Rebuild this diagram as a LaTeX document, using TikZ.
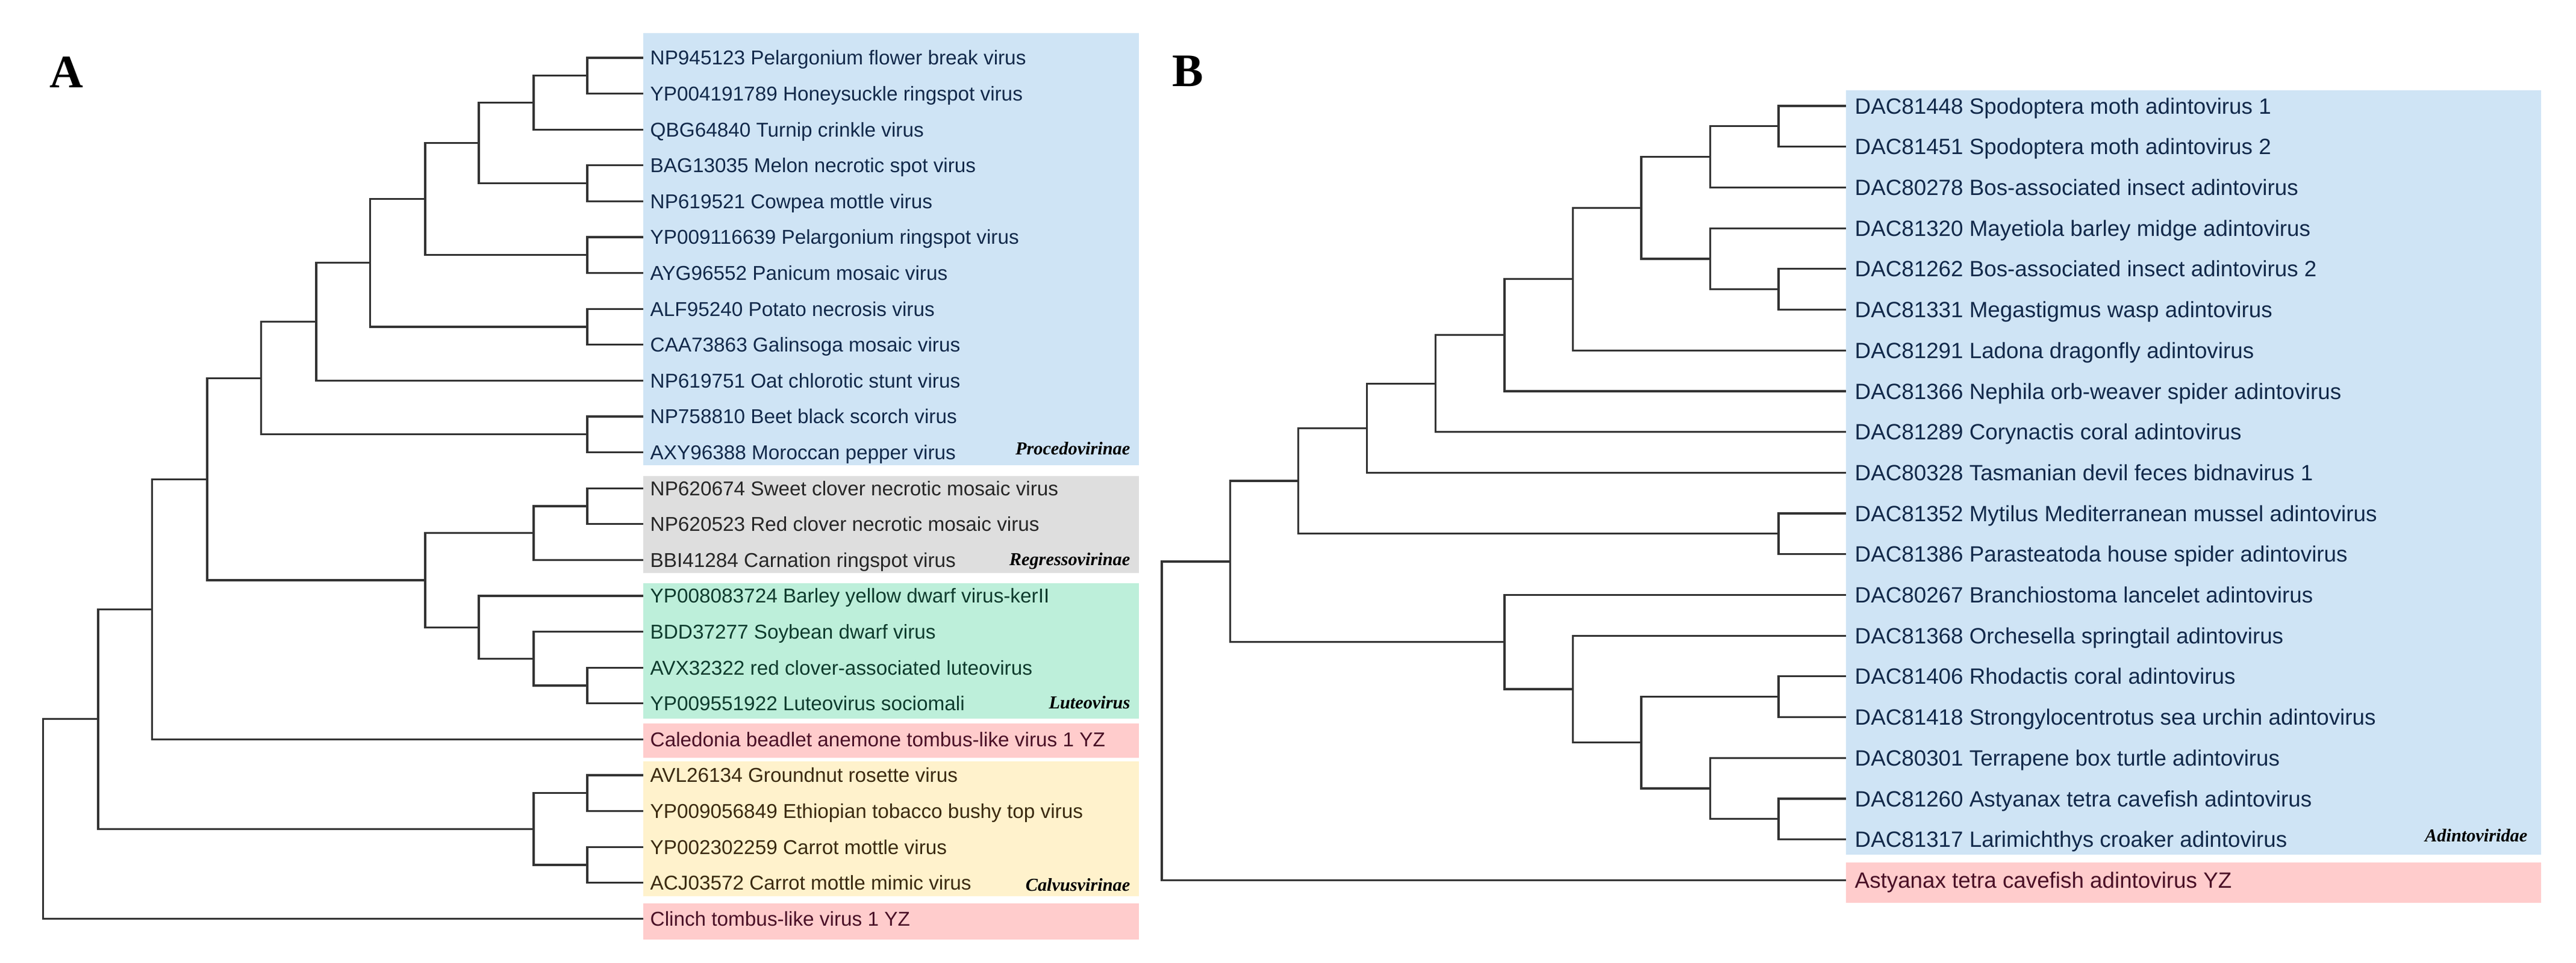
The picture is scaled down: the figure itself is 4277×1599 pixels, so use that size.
\documentclass[tikz,border=0pt]{standalone}
\usepackage{fontspec}
\newfontfamily\arialf{Liberation Sans}
\newfontfamily\tnrf{Liberation Serif}
\definecolor{bxblue}{HTML}{CFE4F5}
\definecolor{bxgray}{HTML}{DEDEDE}
\definecolor{bxgreen}{HTML}{BDEFDA}
\definecolor{bxred}{HTML}{FFCCCC}
\definecolor{bxyellow}{HTML}{FFF2CC}
\definecolor{tblue}{HTML}{12294A}
\definecolor{tgray}{HTML}{262626}
\definecolor{tgreen}{HTML}{0E3B2D}
\definecolor{tred}{HTML}{4A1026}
\definecolor{tyellow}{HTML}{3B2A10}
\definecolor{branch}{HTML}{333333}
\tikzset{
  branchline/.style={draw=branch, line width=3.2*0.2845pt},
  leafA/.style={anchor=west, inner xsep=0.11cm, inner ysep=0pt, text height=0.238cm, text depth=0pt,
    font=\arialf\fontsize{9.47pt}{11pt}\selectfont},
  leafB/.style={anchor=west, inner xsep=0.14cm, inner ysep=0pt, text height=0.263cm, text depth=0pt,
    font=\arialf\fontsize{10.46pt}{12pt}\selectfont},
  grouplabel/.style={anchor=base east, inner sep=0pt, text=black,
    font=\tnrf\bfseries\itshape\fontsize{8.62pt}{10pt}\selectfont},
  panellabel/.style={anchor=base, inner sep=0pt, font=\tnrf\bfseries\fontsize{22pt}{24pt}\selectfont},
}
\begin{document}
\begin{tikzpicture}[x=0.01cm, y=-0.01cm]
\useasboundingbox (0,0) rectangle (4277,1599);
\fill[white] (0,0) rectangle (4277,1599);

% ---------- Panel A boxes ----------
\fill[bxblue]   (1068,55)   rectangle (1891,773);
\fill[bxgray]   (1068,791)  rectangle (1891,952);
\fill[bxgreen]  (1068,969)  rectangle (1891,1194);
\fill[bxred]    (1068,1202) rectangle (1891,1259);
\fill[bxyellow] (1068,1265) rectangle (1891,1489);
\fill[bxred]    (1068,1501) rectangle (1891,1561);

% ---------- Panel B boxes ----------
\fill[bxblue] (3065,149.5) rectangle (4219,1420);
\fill[bxred]  (3065,1433)  rectangle (4219,1500);

% panel labels
\node[panellabel] (labA) at (110.5,145) {A};
\node[panellabel] (labB) at (1972,143) {B};

% ---------- Panel A leaves ----------
\foreach \i/\c/\t in {
 0/tblue/{NP945123 Pelargonium flower break virus},
 1/tblue/{YP004191789 Honeysuckle ringspot virus},
 2/tblue/{QBG64840 Turnip crinkle virus},
 3/tblue/{BAG13035 Melon necrotic spot virus},
 4/tblue/{NP619521 Cowpea mottle virus},
 5/tblue/{YP009116639 Pelargonium ringspot virus},
 6/tblue/{AYG96552 Panicum mosaic virus},
 7/tblue/{ALF95240 Potato necrosis virus},
 8/tblue/{CAA73863 Galinsoga mosaic virus},
 9/tblue/{NP619751 Oat chlorotic stunt virus},
 10/tblue/{NP758810 Beet black scorch virus},
 11/tblue/{AXY96388 Moroccan pepper virus},
 12/tgray/{NP620674 Sweet clover necrotic mosaic virus},
 13/tgray/{NP620523 Red clover necrotic mosaic virus},
 14/tgray/{BBI41284 Carnation ringspot virus},
 15/tgreen/{YP008083724 Barley yellow dwarf virus-kerII},
 16/tgreen/{BDD37277 Soybean dwarf virus},
 17/tgreen/{AVX32322 red clover-associated luteovirus},
 18/tgreen/{YP009551922 Luteovirus sociomali},
 19/tred/{Caledonia beadlet anemone tombus-like virus 1 YZ},
 20/tyellow/{AVL26134 Groundnut rosette virus},
 21/tyellow/{YP009056849 Ethiopian tobacco bushy top virus},
 22/tyellow/{YP002302259 Carrot mottle virus},
 23/tyellow/{ACJ03572 Carrot mottle mimic virus},
 24/tred/{Clinch tombus-like virus 1 YZ}}
 {\node[leafA, text=\c] (la\i) at (1068,{96+59.6*\i}) {\t};}

% group labels A
\node[grouplabel] (gProc) at (1877,755)    {Procedovirinae};
\node[grouplabel] (gReg)  at (1877,939.5)  {Regressovirinae};
\node[grouplabel] (gLut)  at (1877,1177.7) {Luteovirus};
\node[grouplabel] (gCal)  at (1877,1480)   {Calvusvirinae};

% internal nodes A
\coordinate (n01)   at (975,125.8);
\coordinate (n012)  at (886,170.5);
\coordinate (n34)   at (975,304.6);
\coordinate (n04)   at (795,237.55);
\coordinate (n56)   at (975,423.8);
\coordinate (n06)   at (706,330.7);
\coordinate (n78)   at (975,543);
\coordinate (n08)   at (614.5,436.85);
\coordinate (n09)   at (525,534.6);
\coordinate (n1011) at (975,721.8);
\coordinate (nProc) at (433.5,628.2);
\coordinate (n1213) at (975,841);
\coordinate (nReg)  at (886,885.7);
\coordinate (n1718) at (975,1139);
\coordinate (n1618) at (886,1094.3);
\coordinate (nLut)  at (795,1042.2);
\coordinate (nRL)   at (706,964);
\coordinate (nPRL)  at (344,796.1);
\coordinate (nCal)  at (252.5,1012.2);
\coordinate (n2021) at (975,1317.8);
\coordinate (n2223) at (975,1437);
\coordinate (nCalv) at (886,1377.4);
\coordinate (nIn)   at (163,1194.8);
\coordinate (rootA) at (71.6,1360.6);

\begin{scope}[branchline]
\draw (la0.west) -| (n01) |- (la1.west);
\draw (n01) -| (n012) |- (la2.west);
\draw (la3.west) -| (n34) |- (la4.west);
\draw (n012) -| (n04) |- (n34);
\draw (la5.west) -| (n56) |- (la6.west);
\draw (n04) -| (n06) |- (n56);
\draw (la7.west) -| (n78) |- (la8.west);
\draw (n06) -| (n08) |- (n78);
\draw (n08) -| (n09) |- (la9.west);
\draw (la10.west) -| (n1011) |- (la11.west);
\draw (n09) -| (nProc) |- (n1011);
\draw (la12.west) -| (n1213) |- (la13.west);
\draw (n1213) -| (nReg) |- (la14.west);
\draw (la17.west) -| (n1718) |- (la18.west);
\draw (la16.west) -| (n1618) |- (n1718);
\draw (la15.west) -| (nLut) |- (n1618);
\draw (nReg) -| (nRL) |- (nLut);
\draw (nProc) -| (nPRL) |- (nRL);
\draw (nPRL) -| (nCal) |- (la19.west);
\draw (la20.west) -| (n2021) |- (la21.west);
\draw (la22.west) -| (n2223) |- (la23.west);
\draw (n2021) -| (nCalv) |- (n2223);
\draw (nCal) -| (nIn) |- (nCalv);
\draw (nIn) -| (rootA) |- (la24.west);
\end{scope}

% ---------- Panel B leaves ----------
\foreach \i/\c/\t in {
 0/tblue/{DAC81448 Spodoptera moth adintovirus 1},
 1/tblue/{DAC81451 Spodoptera moth adintovirus 2},
 2/tblue/{DAC80278 Bos-associated insect adintovirus},
 3/tblue/{DAC81320 Mayetiola barley midge adintovirus},
 4/tblue/{DAC81262 Bos-associated insect adintovirus 2},
 5/tblue/{DAC81331 Megastigmus wasp adintovirus},
 6/tblue/{DAC81291 Ladona dragonfly adintovirus},
 7/tblue/{DAC81366 Nephila orb-weaver spider adintovirus},
 8/tblue/{DAC81289 Corynactis coral adintovirus},
 9/tblue/{DAC80328 Tasmanian devil feces bidnavirus 1},
 10/tblue/{DAC81352 Mytilus Mediterranean mussel adintovirus},
 11/tblue/{DAC81386 Parasteatoda house spider adintovirus},
 12/tblue/{DAC80267 Branchiostoma lancelet adintovirus},
 13/tblue/{DAC81368 Orchesella springtail adintovirus},
 14/tblue/{DAC81406 Rhodactis coral adintovirus},
 15/tblue/{DAC81418 Strongylocentrotus sea urchin adintovirus},
 16/tblue/{DAC80301 Terrapene box turtle adintovirus},
 17/tblue/{DAC81260 Astyanax tetra cavefish adintovirus},
 18/tblue/{DAC81317 Larimichthys croaker adintovirus},
 19/tred/{Astyanax tetra cavefish adintovirus YZ}}
 {\node[leafB, text=\c] (lb\i) at (3065,{176+67.7*\i}) {\t};}

\node[grouplabel] (gAdi) at (4197,1398) {Adintoviridae};

% internal nodes B
\coordinate (m01)   at (2953,209.85);
\coordinate (m012)  at (2839.5,260.6);
\coordinate (m45)   at (2953,480.65);
\coordinate (m345)  at (2839.5,429.9);
\coordinate (m05)   at (2725,345.25);
\coordinate (m06)   at (2611.5,463.7);
\coordinate (m07)   at (2498,556.8);
\coordinate (m08)   at (2383.4,637.2);
\coordinate (m09)   at (2269.8,711.25);
\coordinate (m1011) at (2953,886.85);
\coordinate (m011)  at (2155.4,799.05);
\coordinate (m1415) at (2953,1157.65);
\coordinate (m1718) at (2953,1360.75);
\coordinate (m1618) at (2839.5,1309.98);
\coordinate (m1418) at (2725,1233.8);
\coordinate (m1318) at (2611.5,1144.95);
\coordinate (m1218) at (2498,1066.7);
\coordinate (m018)  at (2042.6,932.9);
\coordinate (rootB) at (1929,1197.6);

\begin{scope}[branchline]
\draw (lb0.west) -| (m01) |- (lb1.west);
\draw (m01) -| (m012) |- (lb2.west);
\draw (lb4.west) -| (m45) |- (lb5.west);
\draw (lb3.west) -| (m345) |- (m45);
\draw (m012) -| (m05) |- (m345);
\draw (m05) -| (m06) |- (lb6.west);
\draw (m06) -| (m07) |- (lb7.west);
\draw (m07) -| (m08) |- (lb8.west);
\draw (m08) -| (m09) |- (lb9.west);
\draw (lb10.west) -| (m1011) |- (lb11.west);
\draw (m09) -| (m011) |- (m1011);
\draw (lb14.west) -| (m1415) |- (lb15.west);
\draw (lb17.west) -| (m1718) |- (lb18.west);
\draw (lb16.west) -| (m1618) |- (m1718);
\draw (m1415) -| (m1418) |- (m1618);
\draw (lb13.west) -| (m1318) |- (m1418);
\draw (lb12.west) -| (m1218) |- (m1318);
\draw (m011) -| (m018) |- (m1218);
\draw (m018) -| (rootB) |- (lb19.west);
\end{scope}
\end{tikzpicture}
\end{document}
